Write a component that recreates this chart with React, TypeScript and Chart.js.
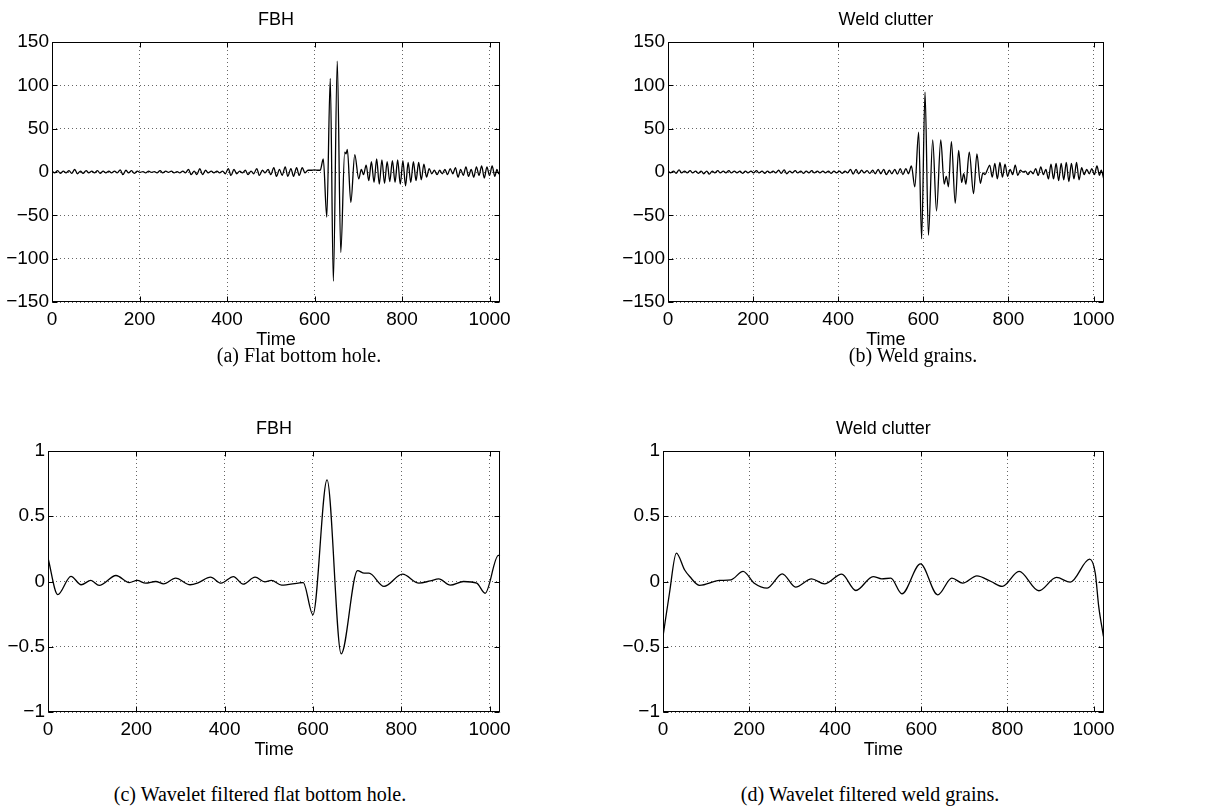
import React, { useEffect, useRef } from "react";
import { Chart, registerables } from "chart.js";

Chart.register(...registerables);

// ---------------- data ----------------
const xTicks = [0, 200, 400, 600, 800, 1000];
const rawYTicks = [-150, -100, -50, 0, 50, 100, 150];
const filtYTicks = [-1, -0.5, 0, 0.5, 1];

// (a) FBH raw A-scan: [time, amplitude] (extrema)
const fbhRaw: [number, number][] = [
  [0, 1], [6, -1], [13, 1.5], [19, -1.5], [26, 1], [32, -1], [39, 1.5], [45, -1.5], [52, 3], [58, -2],
  [65, 1], [71, -1.5], [78, 1.5], [84, -1], [91, 1], [97, -1], [104, 1.5], [110, -1.5], [117, 1], [123, -1],
  [130, 1], [136, -1], [143, 1], [149, -1], [156, 2.5], [162, -3], [169, 2], [175, -1], [182, 1.5], [188, -1.5],
  [195, 1], [201, -0.5], [208, 0.5], [214, -1], [221, 1], [227, -0.5], [234, 0.5], [240, -1], [247, 1.5], [253, -1],
  [260, 1], [266, -0.5], [273, 1], [279, -1], [286, 0.5], [292, -1],
  [299, 1], [305, -1], [312, 3], [318, -3], [325, 1], [331, -3], [338, 4], [344, -3], [351, 2], [357, -1],
  [364, 1], [370, -1], [377, 1], [383, -1], [390, 1], [396, -2], [403, 4], [409, -4], [416, 3], [422, -2],
  [429, 1], [435, -1], [442, 2], [448, -3], [455, 1], [461, -2], [468, 4], [474, -4], [481, 2], [487, -1],
  [494, 3], [500, -3], [507, 5], [513, -5], [520, 3], [526, -4], [533, 6], [539, -5], [546, 4], [552, -5],
  [559, 5], [565, -4], [572, 5], [578, -1], [585, 2], [592, 2], [600, 2.5], [608, 2], [613, 2],
  [620, 15], [628, -52], [636, 108], [643, -126], [652, 128], [660, -93], [669, 23], [672, 21], [675, 26],
  [683, -35], [692, 20], [701, -8], [707, 3], [712, -3], [718, 8], [724, -10], [730, 12], [736, -12],
  [742, 15], [748, -14], [754, 14], [760, -13], [766, 12], [772, -11], [778, 13], [784, -12], [790, 14],
  [796, -14], [802, 13], [808, -16], [814, 11], [820, -12], [826, 12], [832, -10], [838, 11], [844, -9],
  [850, 9], [856, -6], [862, 4], [868, -2], [874, 2], [880, -3], [886, 2], [892, -2], [898, 3], [904, -3],
  [910, 4], [916, -2], [922, 5], [928, -6], [934, 3], [940, -4], [946, 6], [952, -5], [958, 3], [964, -6],
  [970, 6], [976, -4], [982, 7], [988, -7], [994, 6], [1000, -4], [1006, 7], [1012, -5], [1017, 3], [1021, -2], [1024, 1],
];

// (b) Weld clutter raw A-scan
const weldRaw: [number, number][] = [
  [0, 1], [6, -1], [13, 1], [19, -1.5], [26, 2.5], [32, -1], [39, 1], [45, -1], [52, 1.5], [58, -1],
  [65, 1], [71, -1.5], [78, 1], [84, -2], [91, 1], [97, -2.5], [104, 1], [110, -1], [117, 1.5], [123, -1],
  [130, 1], [136, -1], [143, 1.5], [149, -1], [156, 1], [162, -1], [169, 1], [175, -1.5], [182, 1], [188, -1],
  [195, 1], [201, -1], [208, 1.5], [214, -1], [221, 1], [227, -1.5], [234, 1], [240, -1], [247, 1], [253, -1],
  [260, 2], [266, -1.5], [273, 2.5], [279, -2], [286, 1], [292, -1], [299, 1.5], [305, -1], [312, 1], [318, -1.5],
  [325, 1], [331, -1], [338, 1.5], [344, -1], [351, 1], [357, -1], [364, 1], [370, -1], [377, 1], [383, -1.5],
  [390, 1], [396, -1], [403, 1], [409, -1.5], [416, 1], [422, -1], [429, 3], [435, -2.5], [442, 3], [448, -2],
  [455, 2], [461, -1], [468, 1.5], [474, -1.5], [481, 2], [487, -2], [494, 3], [500, -2], [507, 3], [513, -3],
  [520, 2], [526, -2], [533, 3], [539, -2.5], [546, 4], [552, -3], [559, 4], [565, -2],
  [572, 7], [580, -17], [589, 46], [596, -77], [604, 92], [612, -73], [622, 37], [631, -45], [641, 37],
  [649, -14], [654, -5], [659, -17], [666, 35], [675, -36], [683, 25], [690, -12], [695, -2], [700, -14],
  [708, 23], [718, -25], [726, 21], [734, -13], [740, -1], [745, -3], [750, 2],
  [756, 8], [762, -6], [768, 10], [774, -8], [780, 11], [786, -6], [792, 9], [798, -5], [804, 3], [810, -3],
  [816, 8], [822, -4], [828, 2], [834, 0], [840, 1], [846, -3], [852, 1], [858, -2], [864, 4], [870, -4],
  [876, 6], [882, -3], [888, 3], [894, -8], [900, 9], [906, -8], [912, 10], [918, -10], [924, 10], [930, -9],
  [936, 11], [942, -11], [948, 10], [954, -8], [960, 11], [966, -9], [972, 5], [978, -3], [984, 3], [990, -2],
  [996, 4], [1002, -3], [1008, 7], [1014, -4], [1018, 2], [1024, -8],
];

// (c) Wavelet filtered FBH
const fbhFilt: [number, number][] = [
  [0, 0.18], [22, -0.1], [52, 0.04], [75, -0.025], [97, 0.008], [116, -0.03], [154, 0.046], [184, -0.008],
  [202, 0.008], [221, -0.013], [244, 0], [262, -0.018], [289, 0.026], [322, -0.025], [341, -0.008],
  [368, 0.033], [392, -0.013], [420, 0.038], [442, -0.02], [469, 0.033], [491, -0.003], [506, 0.008],
  [529, -0.028], [570, -0.01], [578, -0.008], [600, -0.255], [632, 0.778], [664, -0.554], [701, 0.084],
  [716, 0.064], [727, 0.064], [761, -0.038], [803, 0.056], [840, -0.013], [866, 0.005], [885, 0.02],
  [911, -0.028], [941, 0], [971, -0.013], [990, -0.09], [1020, 0.2], [1024, 0.196],
];

// (d) Wavelet filtered weld clutter
const weldFilt: [number, number][] = [
  [0, -0.42], [15, -0.09], [31, 0.217], [50, 0.09], [62, 0.038], [85, -0.03], [131, 0.008], [158, 0.013],
  [186, 0.077], [212, -0.013], [242, -0.05], [277, 0.059], [308, -0.043], [345, 0.02], [375, -0.018],
  [415, 0.056], [448, -0.069], [488, 0.038], [508, 0.02], [529, 0.026], [555, -0.094], [598, 0.135],
  [638, -0.102], [671, 0.026], [696, -0.013], [729, 0.043], [762, 0], [788, -0.038], [827, 0.077],
  [873, -0.071], [914, 0.031], [946, -0.005], [991, 0.171], [1004, 0.064], [1012, -0.19], [1023, -0.42],
];

// ---------------- layout ----------------
type Area = { l: number; t: number; r: number; b: number };
type PanelDef = {
  title: string;
  caption: string;
  data: [number, number][];
  yTicks: number[];
  area: Area;
  capX: number;
  capY: number;
};

const panels: PanelDef[] = [
  { title: "FBH", caption: "(a) Flat bottom hole.", data: fbhRaw, yTicks: rawYTicks,
    area: { l: 52, t: 42, r: 503, b: 302 }, capX: 299, capY: 355 },
  { title: "Weld clutter", caption: "(b) Weld grains.", data: weldRaw, yTicks: rawYTicks,
    area: { l: 668, t: 42, r: 1107, b: 302 }, capX: 913, capY: 355 },
  { title: "FBH", caption: "(c) Wavelet filtered flat bottom hole.", data: fbhFilt, yTicks: filtYTicks,
    area: { l: 48, t: 451, r: 503, b: 712 }, capX: 260, capY: 794 },
  { title: "Weld clutter", caption: "(d) Wavelet filtered weld grains.", data: weldFilt, yTicks: filtYTicks,
    area: { l: 663, t: 451, r: 1107, b: 712 }, capX: 870, capY: 794 },
];

const SANS = "'Liberation Sans', Arial, Helvetica, sans-serif";
const SERIF = "'Liberation Serif', 'Times New Roman', serif";
const fmt = (v: number) => String(v).replace("-", "\u2212");

function PanelChart({ p }: { p: PanelDef }) {
  const ref = useRef<HTMLCanvasElement | null>(null);
  const yW = Math.min(55, p.area.l);
  const left = p.area.l - yW;
  const top = p.area.t - 40;
  const rightPad = 14;
  const width = p.area.r - left + rightPad;
  const xH = 52;
  const height = p.area.b - top + xH;

  useEffect(() => {
    if (!ref.current) return;
    const yMin = p.yTicks[0];
    const yMax = p.yTicks[p.yTicks.length - 1];

    const framePlugin = {
      id: "frame",
      afterDatasetsDraw(chart: any) {
        const { ctx, chartArea: a, scales } = chart;
        ctx.save();
        ctx.strokeStyle = "#000";
        ctx.lineWidth = 1;
        const L = Math.round(a.left) + 0.5, R = Math.round(a.right) - 0.5;
        const T = Math.round(a.top) + 0.5, B = Math.round(a.bottom) - 0.5;
        ctx.strokeRect(L, T, R - L, B - T);
        const tl = 5;
        ctx.beginPath();
        xTicks.forEach((v) => {
          const x = Math.round(scales.x.getPixelForValue(v)) + 0.5;
          ctx.moveTo(x, B); ctx.lineTo(x, B - tl);
          ctx.moveTo(x, T); ctx.lineTo(x, T + tl);
        });
        p.yTicks.forEach((v) => {
          const y = Math.round(scales.y.getPixelForValue(v)) + 0.5;
          ctx.moveTo(L, y); ctx.lineTo(L + tl, y);
          ctx.moveTo(R, y); ctx.lineTo(R - tl, y);
        });
        ctx.stroke();
        // title
        ctx.fillStyle = "#000";
        ctx.font = `18px ${SANS}`;
        ctx.textAlign = "center";
        ctx.textBaseline = "middle";
        ctx.fillText(p.title, (a.left + a.right) / 2, a.top - 22);
        ctx.restore();
      },
    };

    const chart = new Chart(ref.current, {
      type: "line",
      data: {
        datasets: [
          {
            data: p.data.map(([x, y]) => ({ x, y })),
            borderColor: "#000",
            borderWidth: 1.3,
            pointRadius: 0,
            fill: false,
            cubicInterpolationMode: "monotone",
          },
        ],
      },
      options: {
        responsive: false,
        animation: false,
        devicePixelRatio: 1,
        events: [],
        layout: { padding: { left: 0, top: 40, right: rightPad, bottom: 0 } },
        plugins: { legend: { display: false }, tooltip: { enabled: false }, title: { display: false } },
        scales: {
          x: {
            type: "linear",
            min: 0,
            max: 1024,
            afterFit: (s: any) => { s.height = xH; },
            afterBuildTicks: (s: any) => { s.ticks = xTicks.map((v) => ({ value: v })); },
            ticks: {
              maxRotation: 0,
              autoSkip: false,
              padding: 6,
              color: "#000",
              font: { family: SANS, size: 19 },
              callback: (v: any) => fmt(Number(v)),
            },
            grid: { color: "rgba(0,0,0,0.6)", lineWidth: 1, drawTicks: false },
            border: { display: false, dash: [1, 3] },
            title: {
              display: true,
              text: "Time",
              color: "#000",
              font: { family: SANS, size: 18 },
              padding: { top: 0, bottom: 3 },
            },
          },
          y: {
            type: "linear",
            min: yMin,
            max: yMax,
            afterFit: (s: any) => { s.width = yW; },
            afterBuildTicks: (s: any) => { s.ticks = p.yTicks.map((v) => ({ value: v })); },
            ticks: {
              autoSkip: false,
              padding: 3,
              color: "#000",
              font: { family: SANS, size: 19 },
              callback: (v: any) => fmt(Number(v)),
            },
            grid: { color: "rgba(0,0,0,0.6)", lineWidth: 1, drawTicks: false },
            border: { display: false, dash: [1, 3] },
          },
        },
      } as any,
      plugins: [framePlugin],
    });
    return () => chart.destroy();
  }, []);

  return (
    <canvas
      ref={ref}
      width={width}
      height={height}
      style={{ position: "absolute", left, top, width, height }}
    />
  );
}

export default function App() {
  return (
    <div style={{ position: "absolute", left: 0, top: 0, width: 1216, height: 807, background: "#fff", overflow: "hidden" }}>
      {panels.map((p, i) => (
        <React.Fragment key={i}>
          <PanelChart p={p} />
          <div
            style={{
              position: "absolute",
              left: p.capX,
              top: p.capY - 12,
              transform: "translateX(-50%)",
              whiteSpace: "nowrap",
              fontFamily: SERIF,
              fontSize: 20,
              lineHeight: "24px",
              color: "#000",
            }}
          >
            {p.caption}
          </div>
        </React.Fragment>
      ))}
    </div>
  );
}
